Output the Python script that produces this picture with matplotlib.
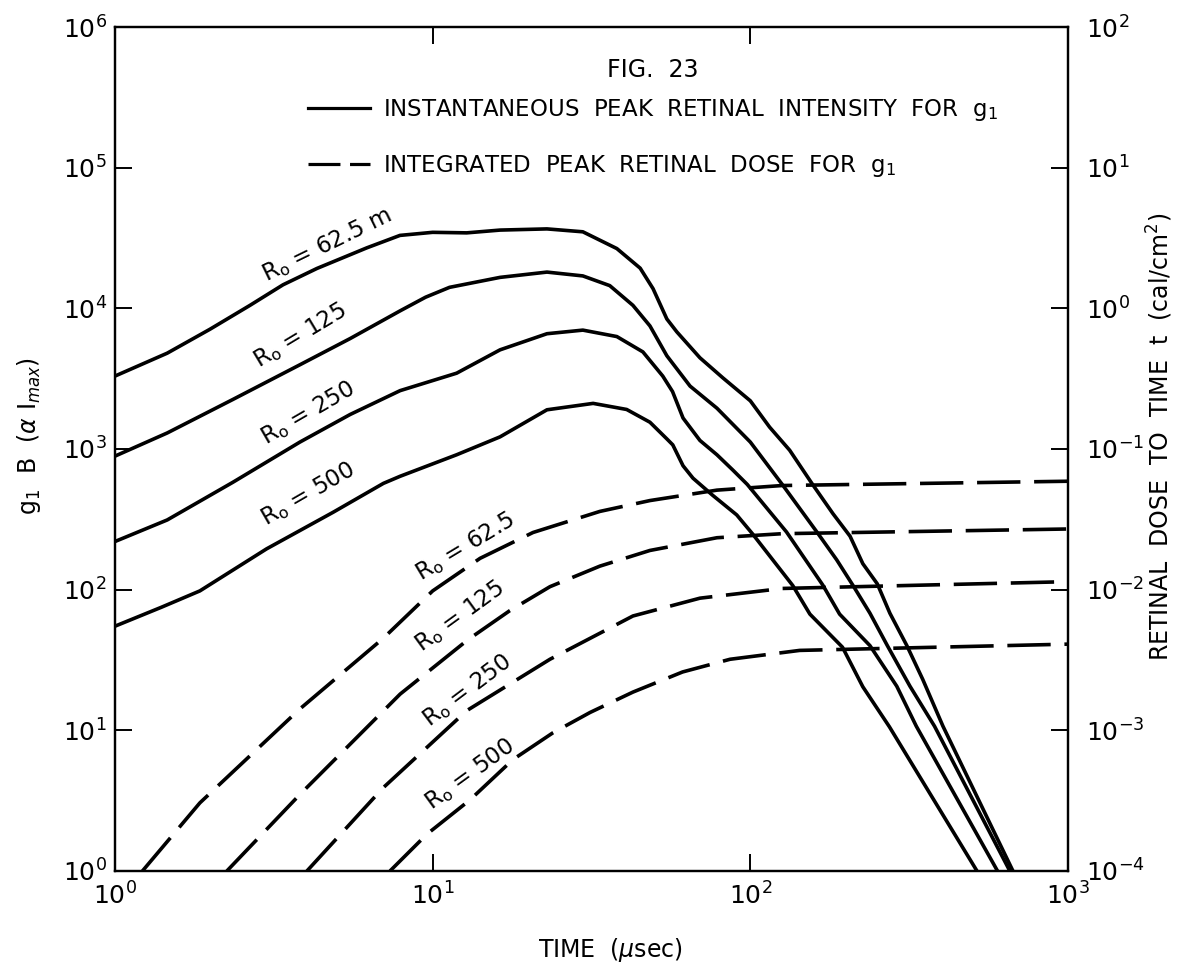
"""Fig. 23: peak retinal intensity and integrated retinal dose versus time for g1."""

import matplotlib

matplotlib.use("Agg")
import matplotlib.pyplot as plt
from matplotlib.lines import Line2D
from matplotlib.ticker import NullLocator

# --- data ---------------------------------------------------------------------
# instantaneous peak retinal intensity (left axis, g1 B)
TIME_I_625 = [1.0, 1.46, 1.99, 2.66, 3.38, 4.32, 6.2, 7.89, 10.0, 12.8, 16.3, 22.9, 29.7,
              38.0, 45.0, 49.4, 54.6, 58.7, 69.4, 82.0, 100, 115, 133, 157, 182, 206, 226,
              251, 275, 311, 349, 404, 671]
PEAK_I_625 = [3300, 4800, 7100, 10500, 14700, 19200, 26900, 33000, 34700, 34400, 36000,
              36700, 35000, 26600, 19300, 13800, 8400, 6800, 4450, 3200, 2200, 1430, 980,
              560, 347, 240, 153, 110, 68, 40, 23, 10.7, 1.0]

TIME_I_125 = [1.0, 1.46, 2.35, 3.82, 5.5, 7.9, 9.5, 11.3, 16.3, 22.9, 29.7, 36.1, 42.7,
              48.3, 54.6, 64.6, 78.5, 100, 126, 162, 187, 210, 238, 270, 318, 380, 656]
PEAK_I_125 = [890, 1300, 2250, 3970, 6100, 9600, 12000, 14100, 16600, 18100, 17000, 14500,
              10500, 7500, 4600, 2800, 1950, 1120, 560, 257, 163, 108, 68, 40, 20.6, 10.7,
              1.0]

TIME_I_250 = [1.0, 1.46, 2.35, 3.82, 5.5, 7.9, 11.9, 16.3, 22.9, 29.7, 38.0, 45.9, 53.0,
              56.9, 61.4, 69.4, 78.5, 88, 97.8, 130, 169, 191, 238, 289, 333, 600]
PEAK_I_250 = [220, 313, 580, 1120, 1760, 2600, 3460, 5070, 6600, 7000, 6300, 4900, 3300,
              2560, 1660, 1150, 910, 710, 560, 257, 108, 67, 40, 20.6, 10.7, 1.0]

TIME_I_500 = [1.0, 1.4, 1.85, 3.0, 4.86, 7.0, 7.9, 11.9, 16.3, 22.9, 32.0, 40.8, 48.3,
              54.6, 57, 61.4, 66, 76, 90.6, 101.5, 136, 154, 195, 226, 274, 517]
PEAK_I_500 = [55, 75, 98, 195, 355, 570, 640, 910, 1220, 1900, 2110, 1910, 1550, 1180,
              1070, 760, 620, 470, 340, 250, 107, 67, 39, 20.4, 10.6, 1.0]

# integrated peak retinal dose (right axis, cal/cm^2)
TIME_D_625 = [1.22, 1.85, 3.82, 6.98, 10, 14.1, 20.7, 33.6, 48.3, 78.5, 126, 1000]
DOSE_D_625 = [1e-4, 3.05e-4, 1.42e-3, 4.5e-3, 9.8e-3, 0.0167, 0.0255, 0.036, 0.043,
              0.051, 0.055, 0.059]

TIME_D_125 = [2.25, 3.82, 7.9, 12.9, 17.5, 23.4, 33.6, 48.3, 78.5, 126, 1000]
DOSE_D_125 = [1e-4, 3.5e-4, 1.81e-3, 4.4e-3, 7.1e-3, 0.0105, 0.0147, 0.019, 0.0234,
              0.025, 0.027]

TIME_D_250 = [4.02, 6.98, 12.8, 23.4, 42.7, 69.4, 126, 1000]
DOSE_D_250 = [1e-4, 3.9e-4, 1.38e-3, 3.2e-3, 6.5e-3, 8.7e-3, 0.0102, 0.0114]

TIME_D_500 = [7.34, 9.6, 13.1, 17.9, 23.9, 31.3, 42.7, 61.2, 86.3, 143, 1000]
DOSE_D_500 = [1e-4, 1.83e-4, 3.2e-4, 6.2e-4, 9.6e-4, 1.34e-3, 1.87e-3, 2.6e-3, 3.2e-3,
              3.7e-3, 4.1e-3]

X_TICKS = [1, 10, 100, 1000]
LEFT_TICKS = [1, 10, 100, 1e3, 1e4, 1e5, 1e6]
RIGHT_TICKS = [1e-4, 1e-3, 1e-2, 1e-1, 1, 10, 100]

SOLID_LABELS = [r"R$_\mathregular{o}$ = 62.5 m", r"R$_\mathregular{o}$ = 125",
                r"R$_\mathregular{o}$ = 250", r"R$_\mathregular{o}$ = 500"]
DASHED_LABELS = [r"R$_\mathregular{o}$ = 62.5", r"R$_\mathregular{o}$ = 125",
                 r"R$_\mathregular{o}$ = 250", r"R$_\mathregular{o}$ = 500"]

LW = 2.6
DASHES = (12, 3.8)

plt.rcParams["font.family"] = ["DejaVu Sans"]
plt.rcParams["mathtext.fontset"] = "dejavusans"

fig = plt.figure(figsize=(11.88, 9.68), dpi=100)
ax = fig.add_axes([115 / 1188, 1 - 871 / 968, 953 / 1188, 844 / 968])
ax2 = ax.twinx()

solid = [(TIME_I_625, PEAK_I_625), (TIME_I_125, PEAK_I_125),
         (TIME_I_250, PEAK_I_250), (TIME_I_500, PEAK_I_500)]
for t, v in solid:
    ax.plot(t, v, color="black", lw=LW, solid_joinstyle="round", solid_capstyle="butt")

dashed = [(TIME_D_625, DOSE_D_625), (TIME_D_125, DOSE_D_125),
          (TIME_D_250, DOSE_D_250), (TIME_D_500, DOSE_D_500)]
for t, v in dashed:
    line, = ax2.plot(t, v, color="black", lw=LW, dash_capstyle="butt")
    line.set_dashes(DASHES)

ax.set_xscale("log")
ax.set_yscale("log")
ax2.set_yscale("log")
ax.set_xticks(X_TICKS)
ax.set_yticks(LEFT_TICKS)
ax2.set_yticks(RIGHT_TICKS)
ax.set_xlim(1, 1000)
ax.set_ylim(1, 1e6)
ax2.set_ylim(1e-4, 1e2)

for a in (ax, ax2):
    a.xaxis.set_minor_locator(NullLocator())
    a.yaxis.set_minor_locator(NullLocator())
    for s in a.spines.values():
        s.set_linewidth(1.6)

ax.tick_params(axis="x", which="major", direction="in", length=12, width=1.4,
               top=True, labelsize=18, pad=8)
ax.tick_params(axis="y", which="major", direction="in", length=12, width=1.4,
               labelsize=18, pad=6)
ax2.tick_params(axis="y", which="major", direction="in", length=12, width=1.4,
                labelsize=18, pad=13)

ax.set_xlabel(r"TIME  ($\mu$sec)", fontsize=17)
ax.set_ylabel(r"g$_\mathregular{1}$  B  ($\alpha$ I$_{max}$)", fontsize=17)
ax2.set_ylabel(r"RETINAL  DOSE  TO  TIME  t  (cal/cm$^2$)", fontsize=17)
ax.xaxis.set_label_coords(0.52, -0.077)
ax.yaxis.set_label_coords(-0.076, 0.515)
ax2.yaxis.set_label_coords(1.081, 0.515)

# curve labels (axes fraction positions, screen rotation)
solid_pos = [(0.222, 0.742, 26), (0.194, 0.635, 31), (0.203, 0.542, 30), (0.203, 0.446, 30)]
for text, (x, y, rot) in zip(SOLID_LABELS, solid_pos):
    ax.text(x, y, text, transform=ax.transAxes, fontsize=16.5, rotation=rot,
            rotation_mode="anchor", ha="center", va="center")
dashed_pos = [(0.368, 0.384, 31), (0.362, 0.302, 36), (0.370, 0.214, 37), (0.372, 0.115, 36)]
for text, (x, y, rot) in zip(DASHED_LABELS, dashed_pos):
    ax.text(x, y, text, transform=ax.transAxes, fontsize=16.5, rotation=rot,
            rotation_mode="anchor", ha="center", va="center")

# key
ax.text(0.5645, 0.949, "FIG.  23", transform=ax.transAxes, fontsize=17,
        ha="center", va="center")
handles = [Line2D([], [], color="black", lw=LW - 0.3),
           Line2D([], [], color="black", lw=LW - 0.3, dashes=(10, 3))]
ax.legend(handles,
          [r"INSTANTANEOUS  PEAK  RETINAL  INTENSITY  FOR  g$_\mathregular{1}$",
           r"INTEGRATED  PEAK  RETINAL  DOSE  FOR  g$_\mathregular{1}$"],
          loc="upper left", bbox_to_anchor=(0.2025, 0.917), frameon=False,
          fontsize=16.5, handlelength=2.7, handletextpad=0.57, labelspacing=1.3,
          borderpad=0, borderaxespad=0)

fig.savefig("out.png", dpi=100)
